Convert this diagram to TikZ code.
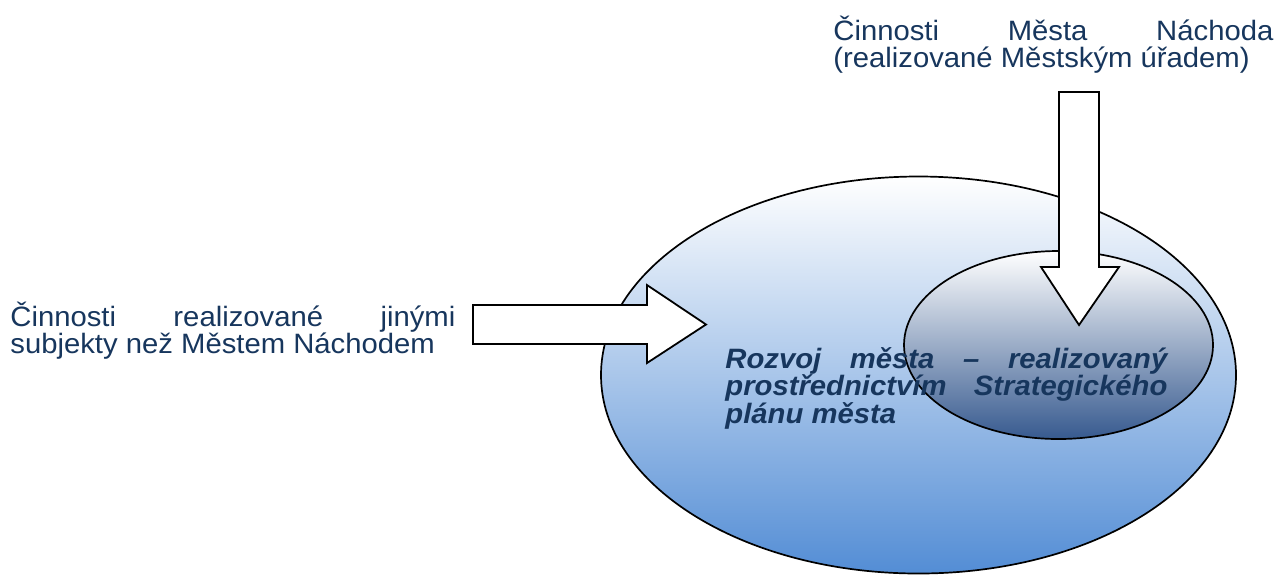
\documentclass[tikz,border=0pt]{standalone}
\usepackage{fontspec}
\setmainfont[FakeStretch=1.045]{Liberation Sans}
\usetikzlibrary{shapes.geometric}
\usetikzlibrary{positioning}

\definecolor{textnavy}{RGB}{23,54,93}
\definecolor{ovalblue}{RGB}{83,141,213}
\definecolor{ovalmid}{RGB}{196,212,238}
\definecolor{innergray}{RGB}{176,181,194}
\definecolor{innerblue}{RGB}{55,90,143}

\newcommand{\diagfont}{\fontsize{14}{13.75}\selectfont\hyphenpenalty=10000\exhyphenpenalty=10000}

\tikzset{
	label_text/.style={anchor=base west, inner sep=0pt, align=justify, text=textnavy, font=\diagfont},
	big_oval/.style={draw, ellipse, line width=0.85pt, inner sep=0pt, minimum width=317.5pt, minimum height=198.5pt, top color=white, middle color=ovalmid, bottom color=ovalblue},
	small_oval/.style={draw, ellipse, line width=0.85pt, inner sep=0pt, minimum width=154.5pt, minimum height=94pt, top color=white, middle color=innergray, bottom color=innerblue},
	block_arrow/.style={draw, fill=white, line width=0.9pt, line join=miter}
}

\begin{document}
\begin{tikzpicture}[x=0.5pt, y=-0.5pt]
	
	\useasboundingbox (0,0) rectangle (1278,575);
	
	\node [big_oval] at (918.5, 375) (rozvoj){};
	
	\draw [block_arrow] (473,305) -- (647,305) -- (647,285) -- (706,324.5) -- (647,363) -- (647,344) -- (473,344) -- cycle;
	
	\node [small_oval] at (1058.5, 345) (strat_plan){};
	
	\draw [block_arrow] (1059,92) -- (1099,92) -- (1099,267) -- (1119,267) -- (1079,325) -- (1041,267) -- (1059,267) -- cycle;
	
	\node [label_text, text width=220pt] at (833, 40) (cinnosti_mesta){Činnosti Města Náchoda (realizované Městským úřadem)};
	\node [label_text, text width=222.5pt] at (10, 326) (cinnosti_jine){Činnosti realizované jinými subjekty než Městem Náchodem};
	\node [label_text, text width=221pt, font=\diagfont\bfseries\itshape] at (725, 368) (rozvoj_text){Rozvoj města – realizovaný prostřednictvím Strategického plánu města};
	
\end{tikzpicture}
\end{document}
